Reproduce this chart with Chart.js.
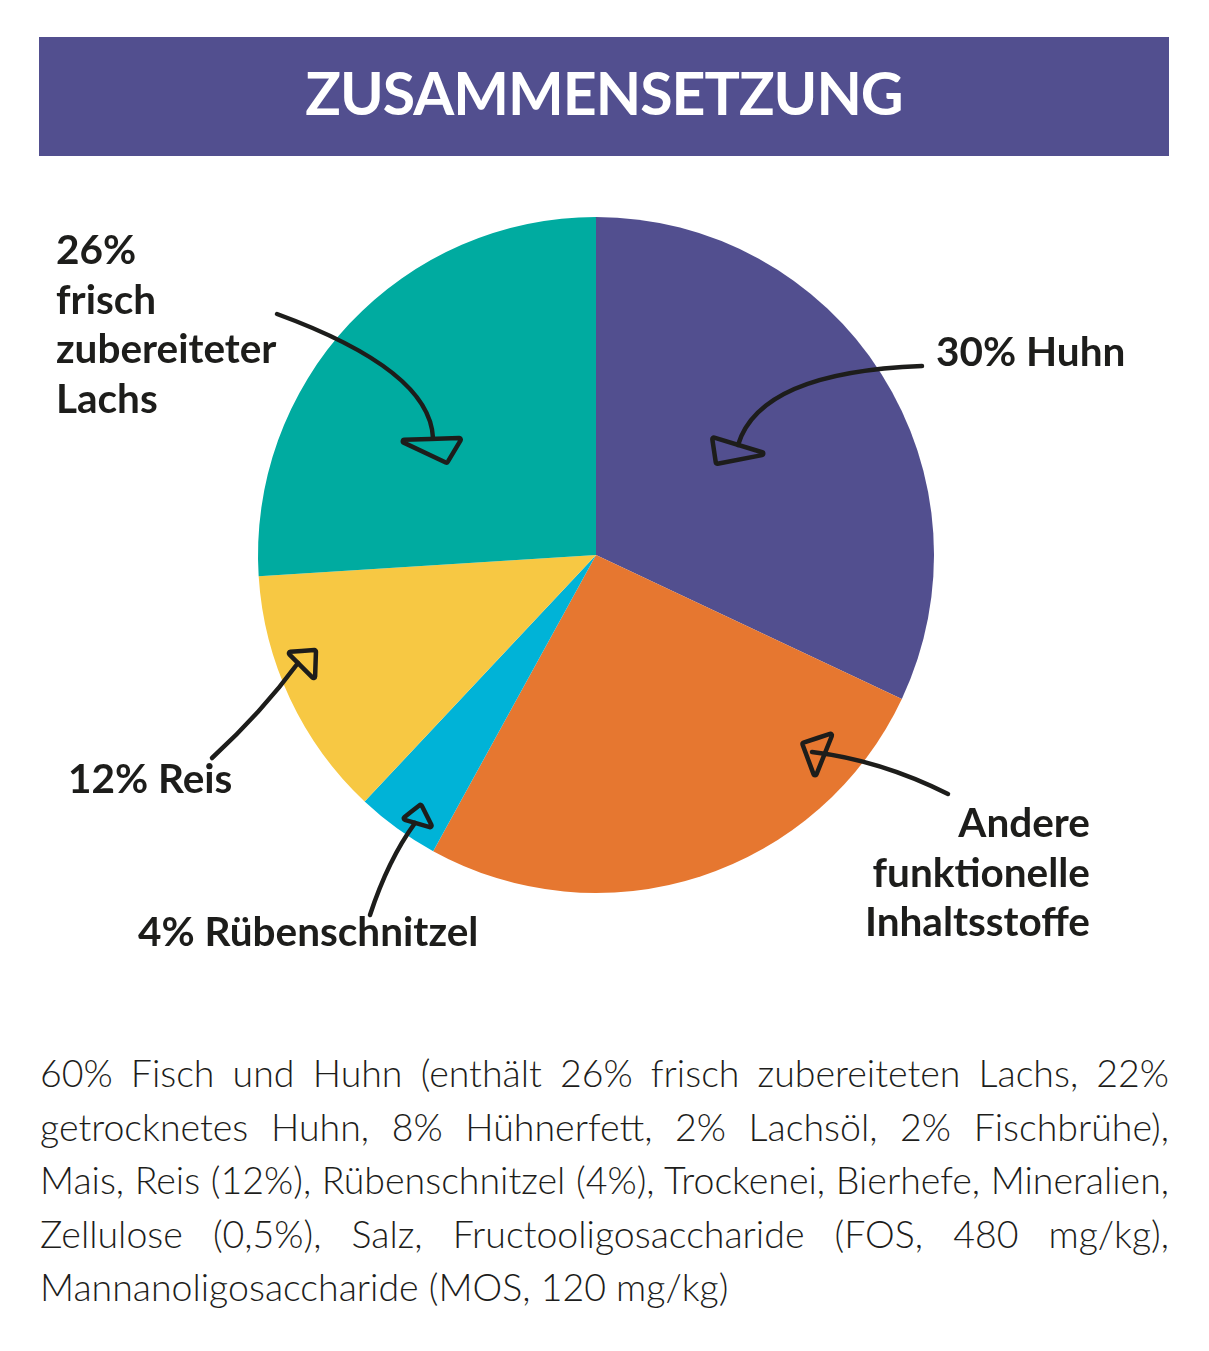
<!DOCTYPE html>
<html lang="de">
<head>
<meta charset="utf-8">
<script src="https://cdn.jsdelivr.net/npm/chart.js@4/dist/chart.umd.min.js"></script>
<style>
  html, body { margin: 0; padding: 0; background: #ffffff; }
  body { width: 1209px; height: 1351px; position: relative; overflow: hidden; font-family: "Lato", "Open Sans", sans-serif; }
  #bar { position: absolute; left: 39px; top: 37px; width: 1130px; height: 119px; background: #524f8f; }
  #title { position: absolute; left: 39px; top: 37px; width: 1130px; height: 119px; line-height: 112px; text-align: center; color: #ffffff; font-weight: 700; font-size: 59px; letter-spacing: -1px; }
  #chartWrap { position: absolute; left: 0; top: 0; width: 1209px; height: 1000px; }
  #para { position: absolute; left: 40px; top: 1046px; width: 1129px; color: #1d1d1b; font-weight: 300; font-size: 37.5px; line-height: 53.6px; }
  #para div { text-align: justify; text-align-last: justify; white-space: nowrap; }
  #para div.last { text-align: left; text-align-last: left; }
</style>
</head>
<body>
<div id="bar"></div>
<div id="title">ZUSAMMENSETZUNG</div>
<div id="chartWrap"><canvas id="c" width="1209" height="1000"></canvas></div>
<div id="para"></div>
<script>
// ---- data ----
const categories = ["Huhn", "Andere funktionelle Inhaltsstoffe", "Rübenschnitzel", "Reis", "frisch zubereiteter Lachs"];
const shares = [32, 26, 4, 12, 26];
const sliceColors = ["#524f8f", "#e67730", "#00b3d7", "#f7c843", "#00aba0"];
const labelLines = [
  ["30% Huhn"],
  ["Andere", "funktionelle", "Inhaltsstoffe"],
  ["4% Rübenschnitzel"],
  ["12% Reis"],
  ["26%", "frisch", "zubereiteter", "Lachs"]
];
const paragraphLines = [
  "60% Fisch und Huhn (enthält 26% frisch zubereiteten Lachs, 22%",
  "getrocknetes Huhn, 8% Hühnerfett, 2% Lachsöl, 2% Fischbrühe),",
  "Mais, Reis (12%), Rübenschnitzel (4%), Trockenei, Bierhefe, Mineralien,",
  "Zellulose (0,5%), Salz, Fructooligosaccharide (FOS, 480 mg/kg),",
  "Mannanoligosaccharide (MOS, 120 mg/kg)"
];

// ---- paragraph ----
const para = document.getElementById('para');
paragraphLines.forEach((t, i) => {
  const d = document.createElement('div');
  d.textContent = t;
  if (i === paragraphLines.length - 1) d.className = 'last';
  para.appendChild(d);
});

// ---- annotation layout (offsets from pie centre, in units where radius = 338) ----
const annot = [
  { // Huhn
    text: { x: 340, y: -189, align: 'left', lh: 49.5 },
    shaft: [[326, -189], [164, -183], [142, -110]],
    head: [[116, -118], [120, -91], [172, -101]]
  },
  { // Andere
    text: { x: 494, y: 282, align: 'right', lh: 49.5 },
    shaft: [[352, 239], [284, 205], [216, 197]],
    head: [[206, 188], [237, 178], [219, 223]]
  },
  { // Rübenschnitzel
    text: { x: -458, y: 391, align: 'left', lh: 49.5 },
    shaft: [[-226, 360], [-208, 305], [-181, 268]],
    head: [[-194, 264], [-175, 249], [-163, 273]]
  },
  { // Reis
    text: { x: -528, y: 238, align: 'left', lh: 49.5 },
    shaft: [[-384, 203], [-334, 157], [-298, 108]],
    head: [[-309, 97], [-280, 95], [-281, 125]]
  },
  { // Lachs
    text: { x: -540, y: -291, align: 'left', lh: 49.5 },
    shaft: [[-319, -241], [-166, -185], [-163, -117]],
    head: [[-198, -115], [-134, -117], [-149, -92]]
  }
];

const annotPlugin = {
  id: 'annot',
  afterDraw(chart) {
    const arc = chart.getDatasetMeta(0).data[0];
    const cx = arc.x, cy = arc.y, s = arc.outerRadius / 338;
    const P = (p) => [cx + p[0] * s, cy + p[1] * s];
    const ctx = chart.ctx;
    ctx.save();
    ctx.strokeStyle = '#1d1d1b';
    ctx.fillStyle = '#1d1d1b';
    ctx.lineWidth = 4.5;
    ctx.lineCap = 'round';
    ctx.lineJoin = 'round';
    annot.forEach((a, i) => {
      const [s0, c0, e0] = a.shaft.map(P);
      ctx.beginPath();
      ctx.moveTo(s0[0], s0[1]);
      ctx.quadraticCurveTo(c0[0], c0[1], e0[0], e0[1]);
      ctx.stroke();
      // slightly rounded triangular head
      const h = a.head.map(P);
      const mid = (p, q) => [(p[0] + q[0]) / 2, (p[1] + q[1]) / 2];
      const m0 = mid(h[0], h[1]);
      const rr = 1.5 * s;
      ctx.beginPath();
      ctx.moveTo(m0[0], m0[1]);
      ctx.arcTo(h[1][0], h[1][1], h[2][0], h[2][1], rr);
      ctx.arcTo(h[2][0], h[2][1], h[0][0], h[0][1], rr);
      ctx.arcTo(h[0][0], h[0][1], h[1][0], h[1][1], rr);
      ctx.closePath();
      ctx.stroke();
      ctx.font = '700 40.5px Lato, "Open Sans", sans-serif';
      ctx.textAlign = a.text.align;
      ctx.textBaseline = 'alphabetic';
      const t0 = P([a.text.x, a.text.y]);
      labelLines[i].forEach((ln, k) => {
        ctx.fillText(ln, t0[0], t0[1] + k * a.text.lh * s);
      });
    });
    ctx.restore();
  }
};

new Chart(document.getElementById('c'), {
  type: 'pie',
  data: {
    labels: categories,
    datasets: [{ data: shares, backgroundColor: sliceColors, borderWidth: 0 }]
  },
  options: {
    responsive: false,
    animation: false,
    layout: { padding: { left: 258, right: 275, top: 217, bottom: 107 } },
    plugins: { legend: { display: false }, tooltip: { enabled: false } }
  },
  plugins: [annotPlugin]
});
</script>
</body>
</html>
